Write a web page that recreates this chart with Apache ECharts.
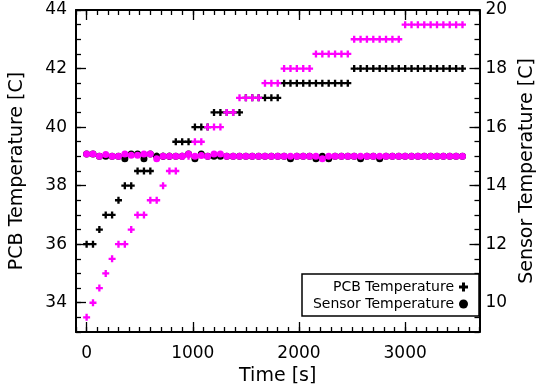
<!DOCTYPE html>
<html>
<head>
<meta charset="utf-8">
<script src="https://cdn.jsdelivr.net/npm/echarts@6/dist/echarts.min.js"></script>
<style>
html,body{margin:0;padding:0;background:#fff;}
#chart{width:545px;height:391px;}
</style>
</head>
<body>
<div id="chart"></div>
<script>
// Time stamps [s]
var timeS = [0,60,120,180,240,300,360,420,480,540,600,660,720,780,840,900,960,1020,1080,1140,
  1200,1260,1320,1380,1440,1500,1560,1620,1680,1740,1800,1860,1920,1980,2040,2100,2160,2220,2280,2340,
  2400,2460,2520,2580,2640,2700,2760,2820,2880,2940,3000,3060,3120,3180,3240,3300,3360,3420,3480,3540];

// Run 1 (black): PCB temperature [C] (left axis)
var pcbBlack = [36,36,36.5,37,37,37.5,38,38,38.5,38.5,38.5,39,39,39,39.5,39.5,39.5,40,40,40,
  40.5,40.5,40.5,40.5,40.5,41,41,41,41,41,41,41.5,41.5,41.5,41.5,41.5,41.5,41.5,41.5,41.5,
  41.5,41.5,42,42,42,42,42,42,42,42,42,42,42,42,42,42,42,42,42,42];
// Run 1 (black): Sensor temperature [C] (right axis)
var sensorBlack = [15.08,15.08,15.0,15.0,15.0,15.0,14.92,15.08,15.08,14.92,15.08,15.0,15.0,15.0,15.0,15.0,15.08,14.92,15.08,15.0,
  15.0,15.0,15.0,15.0,15.0,15.0,15.0,15.0,15.0,15.0,15.0,15.0,14.92,15.0,15.0,15.0,14.92,15.0,14.92,15.0,
  15.0,15.0,15.0,14.92,15.0,15.0,14.92,15.0,15.0,15.0,15.0,15.0,15.0,15.0,15.0,15.0,15.0,15.0,15.0,15.0];

// Run 2 (magenta): PCB temperature [C]
var pcbMagenta = [33.5,34,34.5,35,35.5,36,36,36.5,37,37,37.5,37.5,38,38.5,38.5,39,39,39.5,39.5,40,
  40,40,40.5,40.5,41,41,41,41,41.5,41.5,41.5,42,42,42,42,42,42.5,42.5,42.5,42.5,
  42.5,42.5,43,43,43,43,43,43,43,43,43.5,43.5,43.5,43.5,43.5,43.5,43.5,43.5,43.5,43.5];
// Run 2 (magenta): Sensor temperature [C]
var sensorMagenta = [15.08,15.08,15.0,15.06,15.0,15.0,15.08,15.04,15.04,15.08,15.08,14.92,15.0,15.0,15.0,15.0,15.08,15.0,15.03,15.0,
  15.08,15.08,15.0,15.0,15.0,15.0,15.0,15.0,15.0,15.0,15.0,15.0,15.0,15.0,15.0,15.0,15.0,14.92,15.0,15.0,
  15.0,15.0,15.0,15.0,15.0,15.0,15.0,15.0,15.0,15.0,15.0,15.0,15.0,15.0,15.0,15.0,15.0,15.0,15.0,15.0];

// Tick labels
var xTickLabels = [0,1000,2000,3000];
var leftTickLabels = [34,36,38,40,42,44];
var rightTickLabels = [10,12,14,16,18,20];

function pairs(xs, ys){ return xs.map(function(x,i){ return [x, ys[i]]; }); }
function plain(v){ return String(v); }

var PLUS = 'path://M3,0h3v3h3v3h-3v3h-3v-3h-3v-3h3z';
var FONT = 'DejaVu Sans';
var TICKW = 1.3;
var lineOn = {show:true, onZero:false, lineStyle:{color:'#000', width:2}};
var lineOff = {show:false, onZero:false};
var labelStyle = {color:'#000', fontFamily:FONT, fontSize:17, formatter:plain};
var nameStyle = {color:'#000', fontFamily:FONT, fontSize:19};

function minorTicks(){ return {show:true, inside:true, length:5, lineStyle:{color:'#000', width:TICKW}}; }
function majorTicks(vals){ return {show:true, inside:true, length:10, customValues:vals, lineStyle:{color:'#000', width:TICKW}}; }

var chart = echarts.init(document.getElementById('chart'), null, {renderer:'canvas'});
chart.setOption({
  animation:false,
  backgroundColor:'#fff',
  grid:{left:76, right:55, top:10, bottom:59, containLabel:false},
  xAxis:[
    {type:'value', position:'bottom', min:-100, max:3700, interval:100,
     axisLine:lineOn, axisTick:minorTicks(),
     axisLabel:Object.assign({customValues:xTickLabels, margin:13}, labelStyle),
     splitLine:{show:false},
     name:'Time [s]', nameLocation:'middle', nameGap:27, nameTextStyle:nameStyle},
    {type:'value', position:'top', min:-100, max:3700, interval:100,
     axisLine:lineOn, axisTick:minorTicks(),
     axisLabel:{show:false}, splitLine:{show:false}},
    {type:'value', position:'bottom', min:-100, max:3700,
     axisLine:lineOff, axisTick:majorTicks(xTickLabels),
     axisLabel:{show:false}, splitLine:{show:false}},
    {type:'value', position:'top', min:-100, max:3700,
     axisLine:lineOff, axisTick:majorTicks(xTickLabels),
     axisLabel:{show:false}, splitLine:{show:false}}
  ],
  yAxis:[
    {type:'value', position:'left', min:33, max:44, interval:0.5,
     axisLine:lineOn, axisTick:minorTicks(),
     axisLabel:Object.assign({customValues:leftTickLabels, margin:9}, labelStyle),
     splitLine:{show:false},
     name:'PCB Temperature [C]', nameLocation:'middle', nameGap:49, nameRotate:90, nameTextStyle:nameStyle},
    {type:'value', position:'right', min:9, max:20, interval:0.5,
     axisLine:lineOn, axisTick:minorTicks(),
     axisLabel:Object.assign({customValues:rightTickLabels, margin:6}, labelStyle),
     splitLine:{show:false},
     name:'Sensor Temperature [C]', nameLocation:'middle', nameGap:31, nameRotate:90, nameTextStyle:nameStyle},
    {type:'value', position:'left', min:33, max:44,
     axisLine:lineOff, axisTick:majorTicks(leftTickLabels),
     axisLabel:{show:false}, splitLine:{show:false}},
    {type:'value', position:'right', min:9, max:20,
     axisLine:lineOff, axisTick:majorTicks(rightTickLabels),
     axisLabel:{show:false}, splitLine:{show:false}}
  ],
  legend:[
    {data:['PCB Temperature'], right:77, top:280, align:'right', orient:'vertical', padding:0,
     itemWidth:9, itemHeight:9, selectedMode:false,
     textStyle:{color:'#000', fontFamily:FONT, fontSize:14}},
    {data:['Sensor Temperature'], right:77, top:297, align:'right', orient:'vertical', padding:0,
     itemWidth:9, itemHeight:9, selectedMode:false,
     textStyle:{color:'#000', fontFamily:FONT, fontSize:14}}
  ],
  graphic:[
    {type:'rect', z:3, shape:{x:302, y:274, width:177, height:42},
     style:{fill:'#fff', stroke:'#000', lineWidth:1.5}}
  ],
  series:[
    {name:'PCB Temperature', type:'scatter', xAxisIndex:0, yAxisIndex:0,
     symbol:PLUS, symbolSize:7, itemStyle:{color:'#000', opacity:1},
     data:pairs(timeS, pcbBlack)},
    {name:'Sensor Temperature', type:'scatter', xAxisIndex:0, yAxisIndex:1,
     symbol:'circle', symbolSize:7, itemStyle:{color:'#000', opacity:1},
     data:pairs(timeS, sensorBlack)},
    {name:'PCB Temperature (run 2)', type:'scatter', xAxisIndex:0, yAxisIndex:0,
     symbol:PLUS, symbolSize:7, itemStyle:{color:'#ff00ff', opacity:1},
     data:pairs(timeS, pcbMagenta)},
    {name:'Sensor Temperature (run 2)', type:'scatter', xAxisIndex:0, yAxisIndex:1,
     symbol:'circle', symbolSize:7, itemStyle:{color:'#ff00ff', opacity:1},
     data:pairs(timeS, sensorMagenta)}
  ]
});
</script>
</body>
</html>
